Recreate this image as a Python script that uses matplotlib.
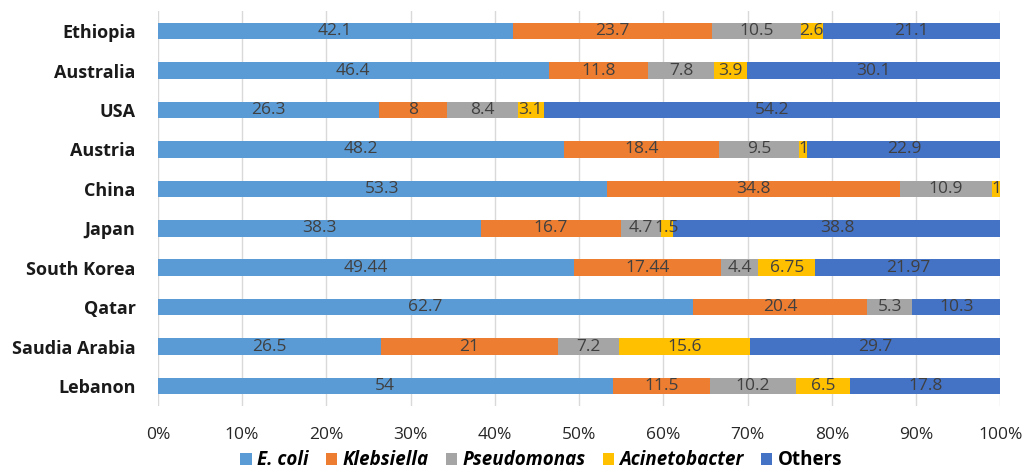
import numpy as np
import matplotlib.pyplot as plt
from matplotlib.ticker import PercentFormatter

plt.rcParams['font.family'] = ['Open Sans', 'DejaVu Sans']

countries = ['Ethiopia', 'Australia', 'USA', 'Austria', 'China', 'Japan',
             'South Korea', 'Qatar', 'Saudia Arabia', 'Lebanon']
species = ['E. coli', 'Klebsiella', 'Pseudomonas', 'Acinetobacter', 'Others']

e_coli = [42.1, 46.4, 26.3, 48.2, 53.3, 38.3, 49.44, 62.7, 26.5, 54]
klebsiella = [23.7, 11.8, 8, 18.4, 34.8, 16.7, 17.44, 20.4, 21, 11.5]
pseudomonas = [10.5, 7.8, 8.4, 9.5, 10.9, 4.7, 4.4, 5.3, 7.2, 10.2]
acinetobacter = [2.6, 3.9, 3.1, 1, 1, 1.5, 6.75, 0, 15.6, 6.5]
others = [21.1, 30.1, 54.2, 22.9, 0, 38.8, 21.97, 10.3, 29.7, 17.8]

colors = ['#5B9BD5', '#ED7D31', '#A5A5A5', '#FFC000', '#4472C4']

values = np.array([e_coli, klebsiella, pseudomonas, acinetobacter, others])
totals = values.sum(axis=0)
shares = values / totals * 100

fig = plt.figure(figsize=(10.25, 4.73), dpi=100)
ax = fig.add_axes([0.154, 0.142, 0.822, 0.834])

y = np.arange(len(countries))
left = np.zeros(len(countries))
for i, name in enumerate(species):
    bars = ax.barh(y, shares[i], left=left, height=0.42, color=colors[i],
                   label=name, zorder=2)
    for j, b in enumerate(bars):
        v = values[i][j]
        if v == 0:
            continue
        ax.text(left[j] + shares[i][j] / 2, y[j], f'{v:g}', ha='center',
                va='center', fontsize=12.5, color='#404040', zorder=3)
    left += shares[i]

ax.set_xlim(0, 100)
ax.set_ylim(len(countries) - 0.5, -0.5)
ax.set_yticks(y)
ax.set_yticklabels(countries, fontsize=13, fontweight='bold', color='#1a1a1a')
ax.set_xticks(np.arange(0, 101, 10))
ax.xaxis.set_major_formatter(PercentFormatter(decimals=0))
ax.tick_params(axis='x', labelsize=12.5, labelcolor='#262626', length=0, pad=15)
ax.tick_params(axis='y', length=0, pad=16)
ax.grid(axis='x', color='#D9D9D9', lw=1, zorder=0)
for s in ax.spines.values():
    s.set_visible(False)

leg = fig.legend(loc='lower center', bbox_to_anchor=(0.528, -0.03), ncol=5,
                 frameon=False, handlelength=0.6, handleheight=0.6,
                 handletextpad=0.3, columnspacing=0.9,
                 prop={'size': 13.5, 'weight': 'bold'})
for t in leg.get_texts():
    if t.get_text() != 'Others':
        t.set_style('italic')

fig.savefig('out.png', dpi=100)
